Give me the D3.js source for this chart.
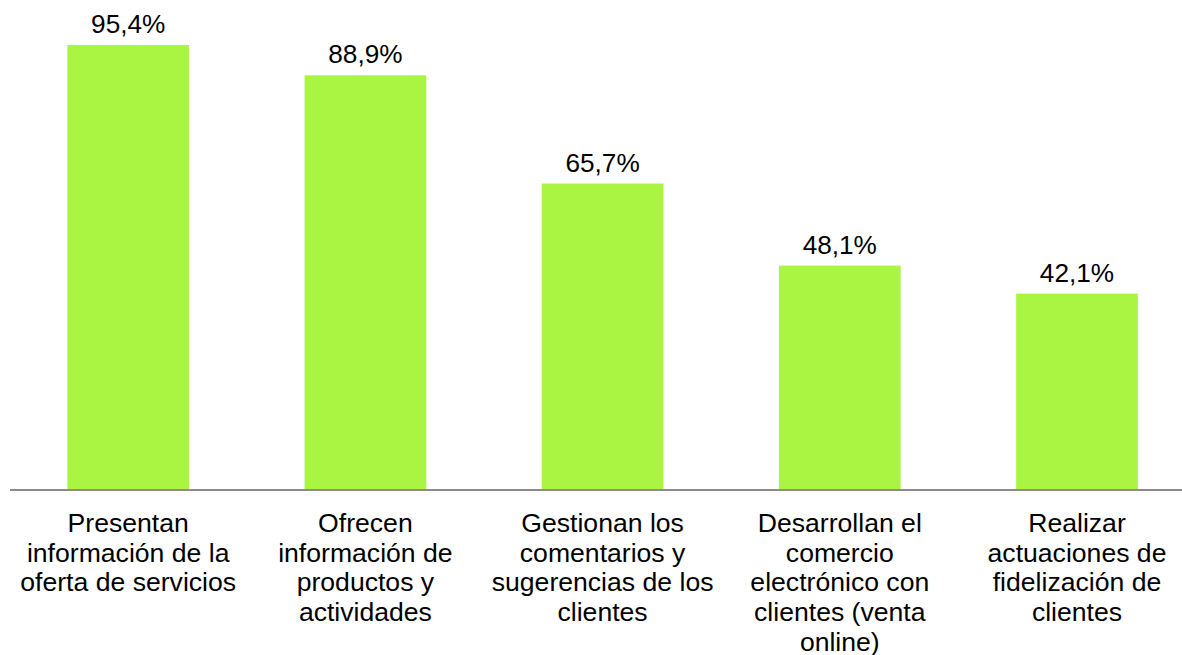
<!DOCTYPE html>
<html><head><meta charset="utf-8">
<script src="https://cdn.jsdelivr.net/npm/d3@7"></script>
<style>body{margin:0;background:#fff}svg{display:block}</style>
</head><body>
<svg id="c" width="1182" height="655"></svg>
<script>
const categories = [
  ["Presentan","información de la","oferta de servicios"],
  ["Ofrecen","información de","productos y","actividades"],
  ["Gestionan los","comentarios y","sugerencias de los","clientes"],
  ["Desarrollan el","comercio","electrónico con","clientes (venta","online)"],
  ["Realizar","actuaciones de","fidelización de","clientes"]
];
const values = [95.4, 88.9, 65.7, 48.1, 42.1];
const valueLabels = ["95,4%","88,9%","65,7%","48,1%","42,1%"];

const svg = d3.select("#c");
const font = "'Liberation Sans', Arial, sans-serif";
const base = 490;
const x = d3.scaleBand().domain(d3.range(values.length)).range([9.6, 1195.6])
  .paddingInner(0.487).paddingOuter(0.2435);
const y = d3.scaleLinear().domain([0, 100]).range([base, base - 466.5]);

svg.selectAll("rect.bar").data(values).join("rect")
  .attr("x", (d,i) => x(i)).attr("width", x.bandwidth())
  .attr("y", d => y(d)).attr("height", d => base - y(d))
  .attr("fill", "#aaf542");

svg.append("line").attr("x1", 10).attr("x2", 1182).attr("y1", base).attr("y2", base)
  .attr("stroke", "#8c8c8c").attr("stroke-width", 2);

svg.selectAll("text.val").data(values).join("text")
  .attr("x", (d,i) => x(i) + x.bandwidth()/2).attr("y", d => y(d) - 12)
  .attr("text-anchor", "middle").attr("font-family", font).attr("font-size", 26.2)
  .attr("fill", "#000").text((d,i) => valueLabels[i]);

const g = svg.selectAll("text.cat").data(categories).join("text")
  .attr("text-anchor", "middle").attr("font-family", font).attr("font-size", 26.6).attr("fill", "#000");
g.each(function(lines, i){
  const t = d3.select(this);
  lines.forEach((l, j) => t.append("tspan").attr("x", x(i) + x.bandwidth()/2).attr("y", 532 + j*29.7).text(l));
});
</script>
</body></html>
